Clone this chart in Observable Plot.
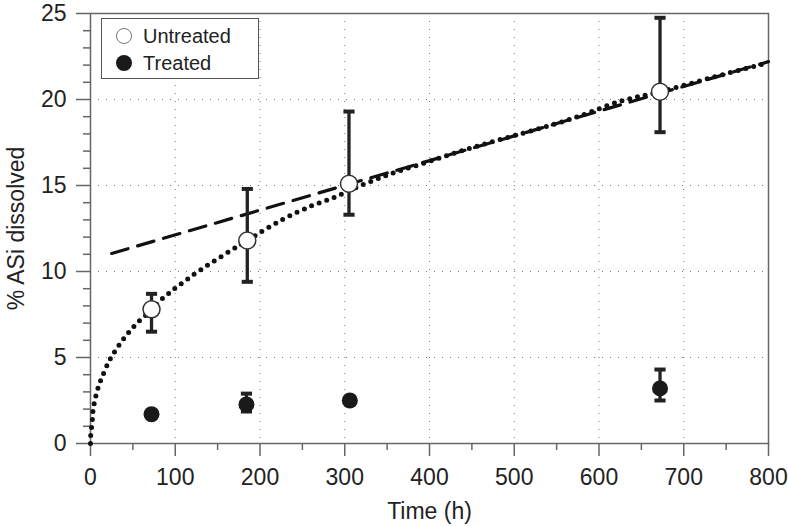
<!DOCTYPE html>
<html>
<head>
<meta charset="utf-8">
<script src="https://cdn.jsdelivr.net/npm/d3@7"></script>
<script src="https://cdn.jsdelivr.net/npm/@observablehq/plot@0.6"></script>
<style>
  body { margin: 0; background: #fff; }
  #wrap { position: relative; width: 788px; height: 526px; font-family: "Liberation Sans", Arial, sans-serif; }
  #legend { position: absolute; left: 101px; top: 18px; width: 156px; height: 59px; border: 1.5px solid #555; background: #fff; }
  .row { position: absolute; left: 0; height: 24px; display: flex; align-items: center; font-size: 20px; color: #222; }
  .sym { width: 16px; height: 16px; border-radius: 50%; margin-left: 14px; margin-right: 11px; box-sizing: border-box; }
</style>
</head>
<body>
<div id="wrap">
  <div id="chart"></div>
  <div id="legend">
    <div class="row" style="top:5px"><div class="sym" style="border:1.5px solid #777;background:#fff"></div>Untreated</div>
    <div class="row" style="top:32px"><div class="sym" style="background:#1a1a1a"></div>Treated</div>
  </div>
</div>
<script>
// Untreated measurements (time h, % ASi dissolved, error low, error high)
const untreatedT  = [72, 185, 305, 672];
const untreatedY  = [7.8, 11.8, 15.1, 20.45];
const untreatedLo = [6.5, 9.4, 13.3, 18.1];
const untreatedHi = [8.7, 14.8, 19.3, 24.75];

// Treated measurements
const treatedT  = [72, 184, 306, 672];
const treatedY  = [1.7, 2.27, 2.5, 3.2];
const treatedLo = [1.5, 1.86, 2.3, 2.5];
const treatedHi = [1.9, 2.9, 2.7, 4.3];

// Dotted fitted curve
const curveT = [0, 0.3, 1.4, 2.4, 3.1, 4.7, 7, 10, 14, 22, 32, 44, 57, 72, 80, 94, 110, 130, 165, 185, 224, 260, 287, 305, 350, 400, 450, 500, 550, 578, 625, 672, 735, 800];
const curveY = [0, 0.5, 1.0, 1.5, 2.0, 2.4, 2.9, 3.4, 3.9, 4.8, 5.6, 6.4, 7.1, 7.75, 8.2, 8.8, 9.4, 10.1, 11.2, 11.8, 12.95, 13.8, 14.3, 14.7, 15.6, 16.4, 17.2, 17.9, 18.6, 19.05, 19.9, 20.45, 21.3, 22.15];

// Dashed linear line, end points
const dashT = [25, 800];
const dashY = [11.05, 22.2];

// Tick values
const xMajor = d3.range(0, 801, 100);
const xMinor = d3.range(50, 800, 100);
const yMajor = d3.range(0, 26, 5);
const yMinor = d3.range(0, 26).filter(v => v % 5 !== 0);
const xGrid = d3.range(100, 800, 100);
const yGrid = d3.range(5, 25, 5);

const untreated = untreatedT.map((t, i) => ({t, y: untreatedY[i], lo: untreatedLo[i], hi: untreatedHi[i]}));
const treated = treatedT.map((t, i) => ({t, y: treatedY[i], lo: treatedLo[i], hi: treatedHi[i]}));
const curve = curveT.map((t, i) => ({t, y: curveY[i]}));
const dash = dashT.map((t, i) => ({t, y: dashY[i]}));
const errs = untreated.concat(treated);

const capSymbol = {
  draw(ctx, size) {
    const w = Math.sqrt(size);
    ctx.moveTo(-w / 2, 0);
    ctx.lineTo(w / 2, 0);
  }
};

const axisStyle = {stroke: "#666", strokeWidth: 1.5};

const chart = Plot.plot({
  width: 788,
  height: 526,
  marginLeft: 90,
  marginRight: 20,
  marginTop: 13,
  marginBottom: 83,
  style: {fontFamily: "'Liberation Sans', Arial, sans-serif", fontSize: "23px", color: "#222", background: "#fff"},
  x: {domain: [0, 800]},
  y: {domain: [0, 25]},
  marks: [
    Plot.gridX(xGrid, {stroke: "#777", strokeOpacity: 1, strokeWidth: 1, strokeDasharray: "1,7"}),
    Plot.gridY(yGrid, {stroke: "#777", strokeOpacity: 1, strokeWidth: 1, strokeDasharray: "1,7"}),
    Plot.axisX(xMinor, {tickSize: 7, tickFormat: () => "", label: null, ...axisStyle}),
    Plot.axisX(xMajor, {tickSize: 13, tickPadding: 12, fontSize: 23, label: null, ...axisStyle}),
    Plot.axisY(yMinor, {tickSize: 7, tickFormat: () => "", label: null, ...axisStyle}),
    Plot.axisY(yMajor, {tickSize: 14, tickPadding: 10, fontSize: 23, label: null, ...axisStyle}),
    Plot.frame({stroke: "#666", strokeWidth: 1.5}),
    Plot.line(curve, {x: "t", y: "y", curve: "catmull-rom", stroke: "#111", strokeWidth: 5, strokeDasharray: "0,8", strokeLinecap: "round"}),
    Plot.line(dash, {x: "t", y: "y", stroke: "#111", strokeWidth: 3.2, strokeDasharray: "17,10"}),
    Plot.ruleX(errs, {x: "t", y1: "lo", y2: "hi", stroke: "#222", strokeWidth: 3.3}),
    Plot.dot(errs, {x: "t", y: "hi", symbol: capSymbol, r: 6.3, stroke: "#222", strokeWidth: 4, fill: "none"}),
    Plot.dot(errs, {x: "t", y: "lo", symbol: capSymbol, r: 6.3, stroke: "#222", strokeWidth: 4, fill: "none"}),
    Plot.dot(untreated, {x: "t", y: "y", r: 8.5, fill: "#fff", stroke: "#333", strokeWidth: 1.5}),
    Plot.dot(treated, {x: "t", y: "y", r: 8, fill: "#1a1a1a", stroke: "none"}),
    Plot.text(["Time (h)"], {frameAnchor: "bottom", dy: 68, lineAnchor: "middle", textAnchor: "middle", fontSize: 23, fill: "#222"}),
    Plot.text(["% ASi dissolved"], {frameAnchor: "left", dx: -74, rotate: -90, lineAnchor: "middle", textAnchor: "middle", fontSize: 23, fill: "#222"})
  ]
});
document.getElementById("chart").appendChild(chart);
</script>
</body>
</html>
